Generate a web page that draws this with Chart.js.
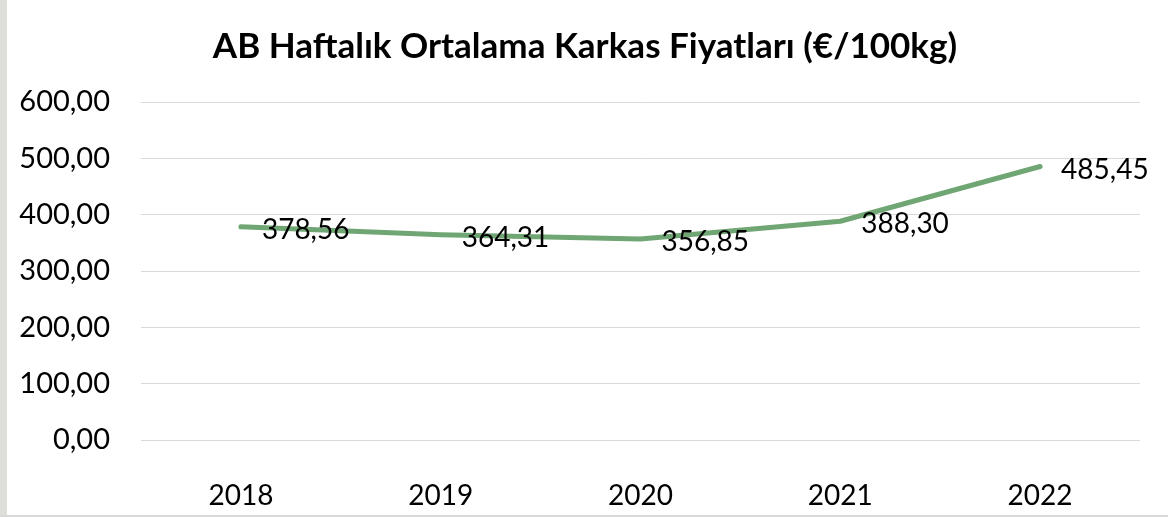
<!DOCTYPE html>
<html>
<head>
<meta charset="utf-8">
<script src="https://cdn.jsdelivr.net/npm/chart.js@4"></script>
<style>
  body { margin: 0; background: #ffffff; }
  #wrap { position: relative; width: 1168px; height: 517px; }
</style>
</head>
<body>
<div id="wrap"><canvas id="myChart" width="1168" height="517"></canvas></div>
<script>
var years = ['2018', '2019', '2020', '2021', '2022'];
var prices = [378.56, 364.31, 356.85, 388.30, 485.45];
var yTicks = [0, 100, 200, 300, 400, 500, 600];
var chartTitle = 'AB Haftalık Ortalama Karkas Fiyatları (€/100kg)';

const fontFamily = 'Lato, "Open Sans", sans-serif';

function trNumber(v) {
    return v.toFixed(2).replace('.', ',');
}

// frame: grey strip on the left and thin line at the bottom
const frame = {
    id: 'frame',
    beforeDraw(chart) {
        const c = chart.ctx;
        c.save();
        c.fillStyle = '#ffffff';
        c.fillRect(0, 0, chart.width, chart.height);
        c.fillStyle = '#dededa';
        c.fillRect(0, 0, 7, chart.height);
        c.fillStyle = '#d9d9d9';
        c.fillRect(0, chart.height - 2, chart.width, 2);
        c.restore();
    }
};

// title centred on the whole canvas, not on the padded box
const centredTitle = {
    id: 'centredTitle',
    afterDraw(chart) {
        const c = chart.ctx;
        c.save();
        c.font = 'bold 35px ' + fontFamily;
        c.fillStyle = '#000000';
        c.textAlign = 'center';
        c.textBaseline = 'middle';
        c.fillText(chartTitle, chart.width / 2 + 1, 47);
        c.restore();
    }
};

// value labels to the right of each point
const valueLabels = {
    id: 'valueLabels',
    afterDatasetsDraw(chart) {
        const c = chart.ctx;
        const meta = chart.getDatasetMeta(0);
        c.save();
        c.font = '28px ' + fontFamily;
        c.fillStyle = '#000000';
        c.textAlign = 'left';
        c.textBaseline = 'middle';
        meta.data.forEach(function (pt, i) {
            c.fillText(trNumber(prices[i]), pt.x + 21, pt.y + 3);
        });
        c.restore();
    }
};

var ctx = document.getElementById('myChart').getContext('2d');
var myChart = new Chart(ctx, {
    type: 'line',
    data: {
        labels: years,
        datasets: [{
            data: prices,
            borderColor: '#70a673',
            borderWidth: 5,
            borderCapStyle: 'round',
            borderJoinStyle: 'round',
            pointRadius: 0,
            tension: 0
        }]
    },
    options: {
        responsive: false,
        animation: false,
        layout: { padding: { left: 0, right: 28, top: 102, bottom: 0 } },
        plugins: {
            legend: { display: false },
            tooltip: { enabled: false },
            title: { display: false }
        },
        scales: {
            x: {
                offset: true,
                grid: { display: false },
                border: { display: false },
                ticks: {
                    color: '#000000',
                    font: { family: fontFamily, size: 28 },
                    padding: 31
                },
                afterFit: function (scale) { scale.height = 77; }
            },
            y: {
                min: 0,
                max: 600,
                afterBuildTicks: function (scale) {
                    scale.ticks = yTicks.map(v => ({ value: v }));
                },
                grid: { color: '#d9d9d9', lineWidth: 1, drawTicks: false },
                border: { display: false },
                ticks: {
                    color: '#000000',
                    font: { family: fontFamily, size: 29 },
                    padding: 31,
                    callback: function (value) { return trNumber(value); }
                },
                afterFit: function (scale) { scale.width = 141; }
            }
        }
    },
    plugins: [frame, centredTitle, valueLabels]
});
</script>
</body>
</html>
